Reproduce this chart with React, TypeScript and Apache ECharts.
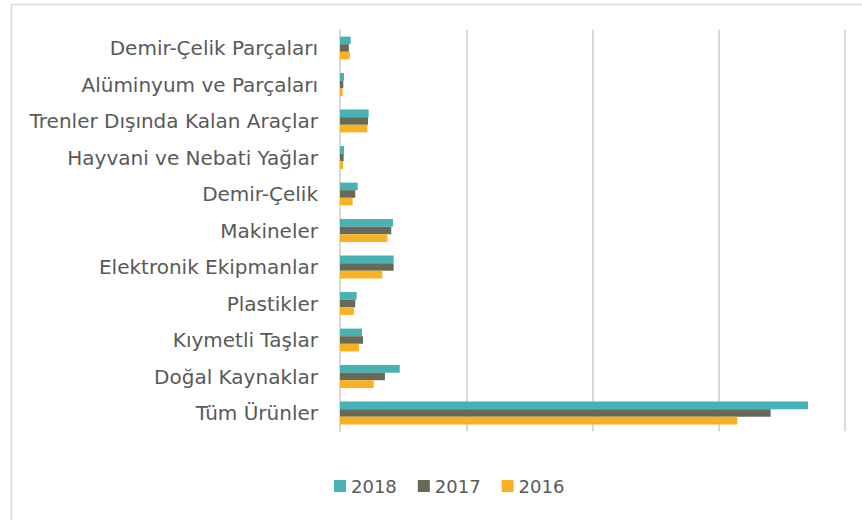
import React, { useEffect, useRef } from "react";
import * as echarts from "echarts";

const categories = [
  "Tüm Ürünler",
  "Doğal Kaynaklar",
  "Kıymetli Taşlar",
  "Plastikler",
  "Elektronik Ekipmanlar",
  "Makineler",
  "Demir-Çelik",
  "Hayvani ve Nebati Yağlar",
  "Trenler Dışında Kalan Araçlar",
  "Alüminyum ve Parçaları",
  "Demir-Çelik Parçaları",
];

const values2018 = [370.7, 47.3, 17.4, 13.2, 42.5, 42.0, 14.0, 3.2, 22.7, 3.2, 8.5];
const values2017 = [341.1, 35.6, 18.2, 12.1, 42.5, 40.6, 12.1, 2.9, 22.2, 2.6, 7.0];
const values2016 = [314.7, 26.7, 15.0, 11.1, 33.5, 37.5, 10.0, 2.4, 21.6, 2.1, 7.7];

const seriesNames = ["2018", "2017", "2016"];
const colors: Record<string, string> = {
  "2018": "#47B1B3",
  "2017": "#676A58",
  "2016": "#F8B123",
};

export default function App() {
  const ref = useRef<HTMLDivElement>(null);
  useEffect(() => {
    if (!ref.current) return;
    const chart = echarts.init(ref.current, null, { renderer: "svg" });
    const mk = (name: string, data: number[]) => ({
      name,
      type: "bar" as const,
      data,
      barWidth: 7.6,
      barGap: "0%",
      itemStyle: { color: colors[name] },
    });
    chart.setOption({
      animation: false,
      backgroundColor: "#ffffff",
      textStyle: { fontFamily: "DejaVu Sans" },
      graphic: [
        {
          type: "rect",
          left: 9,
          top: 2,
          shape: { width: 900, height: 600 },
          style: { fill: "none", stroke: "#d9d9d9", lineWidth: 1.5 },
          silent: true,
        },
      ],
      grid: { left: 340, right: 17, top: 29.75, bottom: 88.75, containLabel: false },
      legend: {
        data: seriesNames,
        left: 329,
        top: 472,
        itemWidth: 12,
        itemHeight: 12,
        itemGap: 21,
        icon: "rect",
        textStyle: { fontSize: 18, color: "#595959", fontFamily: "DejaVu Sans" },
      },
      xAxis: {
        type: "value",
        min: 0,
        max: 400,
        interval: 100,
        axisLabel: { show: false },
        axisLine: { show: false },
        axisTick: { show: false },
        splitLine: { lineStyle: { color: "#d9d9d9", width: 2 } },
      },
      yAxis: {
        type: "category",
        data: categories,
        axisLine: { lineStyle: { color: "#d9d9d9", width: 2 } },
        axisTick: { show: false },
        axisLabel: { fontSize: 20, color: "#595959", margin: 22, fontFamily: "DejaVu Sans" },
      },
      series: [mk("2018", values2018), mk("2017", values2017), mk("2016", values2016)],
    });
    return () => chart.dispose();
  }, []);
  return (
    <div
      ref={ref}
      style={{ position: "fixed", left: 0, top: 0, width: 862, height: 520 }}
    />
  );
}
